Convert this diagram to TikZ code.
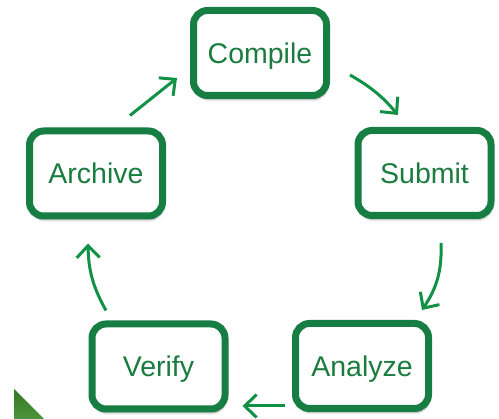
\documentclass[tikz,border=0pt]{standalone}
\usepackage{fontspec}
\setmainfont{Liberation Sans}
\usetikzlibrary{arrows.meta,shadows.blur}
\definecolor{boxGreen}{RGB}{22,126,66}
\definecolor{txtGreen}{RGB}{26,124,62}
\definecolor{arrGreen}{RGB}{17,145,70}
\definecolor{triGreen}{RGB}{58,138,40}
\tikzstyle{stepS}=[rectangle,rounded corners=14pt,line width=7pt,draw=boxGreen,fill=white,minimum width=133pt,minimum height=85pt,inner sep=0pt,text height=21pt,text depth=0pt,text=txtGreen,font=\fontsize{28.5}{34}\selectfont,blur shadow={shadow xshift=1pt,shadow yshift=-4pt,shadow blur steps=8,shadow opacity=35}]
\tikzstyle{flowS}=[line width=3pt,draw=arrGreen,-{Straight Barb[length=12pt,width=23pt]}]

\begin{document}
\begin{tikzpicture}[x=1pt,y=1pt]
    \useasboundingbox (0,0) rectangle (499,419);
    \shade[top color=triGreen!85!black,bottom color=triGreen!90] (14,30) -- (14,0) -- (44,0) -- cycle;
    \draw (260,366) node[stepS] (compile) {Compile};
    \draw (424.5,246) node[stepS] (submit) {Submit};
    \draw (362,53) node[stepS] (analyze) {Analyze};
    \draw (158.5,52.5) node[stepS] (verify) {Verify};
    \draw (96,245.5) node[stepS] (archive) {Archive};
    \path
        ([shift={(20,-22)}]compile.east) edge[flowS,bend left=10] ([shift={(-26.5,12)}]submit.north)
        ([shift={(16.5,-24)}]submit.south) edge[flowS,bend left=18] ([shift={(60,10)}]analyze.north)
        ([shift={(-7,-40)}]analyze.west) edge[flowS] ([shift={(14,-39.5)}]verify.east)
        ([shift={(-52.5,10)}]verify.north) edge[flowS,bend left=14] ([shift={(-8,-24)}]archive.south)
        ([shift={(34,12)}]archive.north) edge[flowS] ([shift={(-13,-25)}]compile.west)
    ;
\end{tikzpicture}
\end{document}
